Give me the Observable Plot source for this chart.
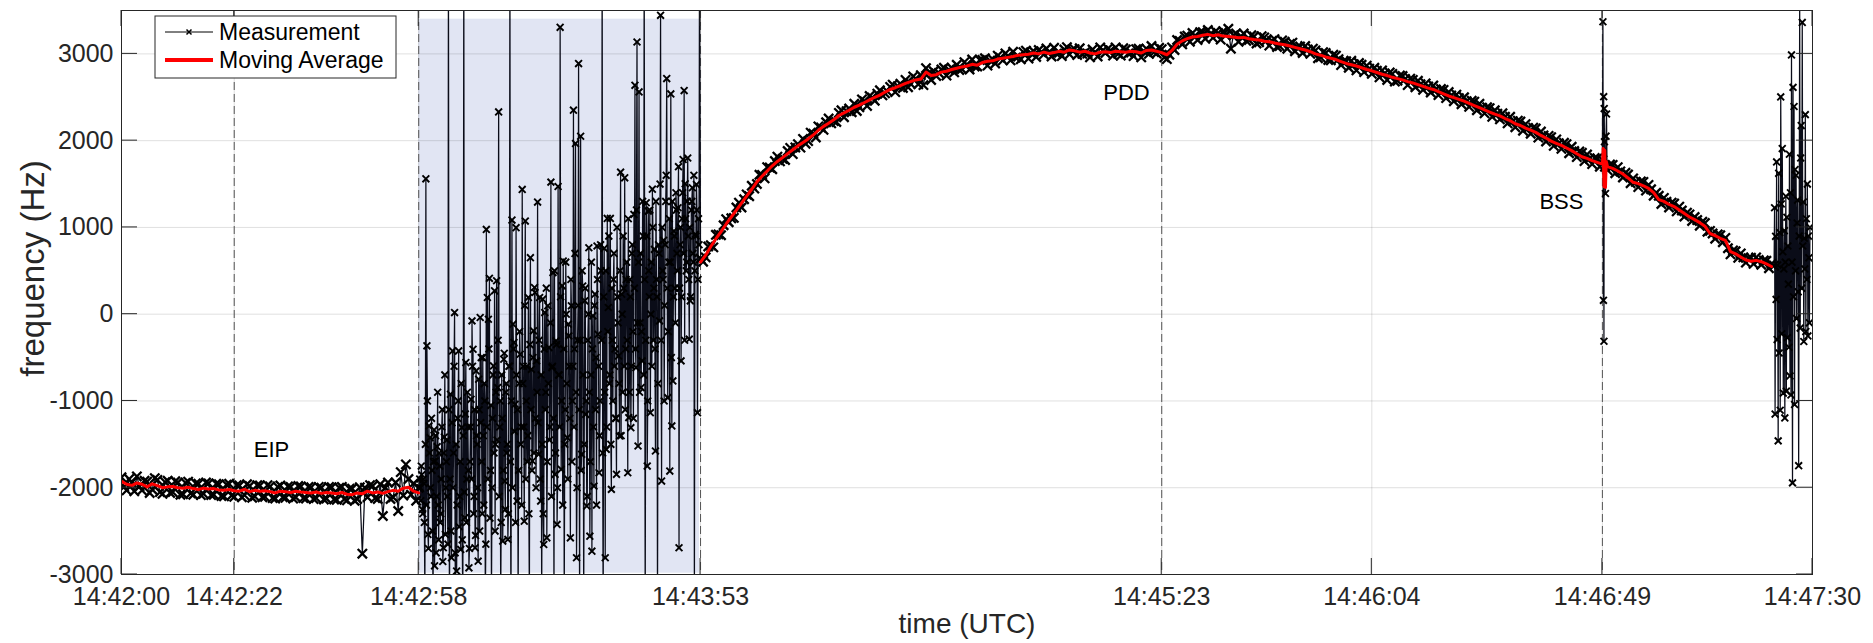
<!DOCTYPE html>
<html><head><meta charset="utf-8">
<script src="https://cdn.jsdelivr.net/npm/d3@7"></script>
<script src="https://cdn.jsdelivr.net/npm/@observablehq/plot@0.6"></script>
<style>
html,body{margin:0;padding:0;background:#fff;}
#chart svg{display:block;}
</style></head><body><div id="chart"></div>
<script>
// ---------- DATA (seconds after 14:42:00 UTC, frequency in Hz) ----------
const tickSeconds = [0, 22, 58, 113, 203, 244, 289, 330];
const yTicks = [-3000, -2000, -1000, 0, 1000, 2000, 3000];
const eventSeconds = [22, 58, 113, 203, 289];
const eventLabels = ["EIP", "PDD", "BSS"];
const eventLabelSec = [25.8, 191.6, 276.7];
const eventLabelHz = [-1560, 2545, 1290];
const shadeSec = [58, 112.8];
const shadeHz = [-2985, 3400];

// Measurement, 0 s .. 58 s every 0.5 s
const measLeftStart = 0, measLeftStep = 0.5;
const measLeft = [
-1880,-1990,-2030,-1900,-1940,-2040,-1870,-1985,-2030,-1920,
-1930,-2060,-2020,-1890,-1910,-2050,-2070,-1935,-1920,-2060,
-2050,-1925,-1940,-2080,-2075,-1945,-1930,-2065,-2080,-1950,
-1955,-2085,-2070,-1940,-1950,-2085,-2080,-1955,-1960,-2095,
-2100,-1965,-1955,-2090,-2105,-1970,-1975,-2110,-2085,-1960,
-1980,-2115,-2100,-1970,-1975,-2110,-2105,-1970,-1985,-2120,
-2125,-1990,-1975,-2110,-2115,-1985,-1990,-2125,-2110,-1980,
-1985,-2120,-2125,-1990,-1995,-2130,-2120,-1990,-2000,-2135,
-2125,-1990,-1995,-2135,-2140,-2000,-1990,-2130,-2145,-2010,
-2010,-2150,-2130,-1995,-2760,-2000,-2110,-1970,-1980,-2120,
-2130,-1960,-2326,-2000,-1940,-2130,-2110,-1940,-2268,-1820,
-2090,-1731,-1900,-2080,-1950,-2150,-2000];

// Measurement, noisy window, samples A: 58.2 s .. 112.8 s every 0.2 s
const measNoisyStart = 58.2, measNoisyStep = 0.2;
const measNoisy = [
-1900,-2150,-1850,-2300,-1950, -3200,1560,-365,-2538,-1288,
-1423,-2100,-1800,-3300,-1334, -1692,-2750,-1527,-2200,-1600,
-2400,-1900,-1100,-2692,-1415, -2538,-1700,-2100,4200,-3500,
-923,-2807,-423,-1600,19, -3300,-2961,-1200,-423,-2100,
-2711,-1307,-3400,4200,-2346, -558,-1900,-1300,-2923,-1700,
-981,-77,-404,-2100,-2692, -654,-1500,-2846,-1100,-38,
-500,-2300,-1400,-800,-3300, 977,192,-58,413,-1800,
-3300,-1200,-596,269,-1500, 385,-846,2331,-1300,-3300,
-700,-2615,-519,-1923,-900, -1600,-2596,-600,4200,-3500,
1085,-115,-327,-1038,997, -2154,-3300,-800,-462,-1300,
1438,-600,-2385,1073,-1000, -1700,192,-3300,651,-635,
-1692,-192,308,-1200,-538, 1292,-1615,192,-2154,-3300,
173,-2654,19,-900,-2577, 96,-385,-1300,1522,-615,
479,-3300,-1846,-308,-2423, 1472,-700,3306,-1788,327,
613,-3300,-1100,0,-1423, -115,-600,-2577,96,-1000,
2351,-400,1967,-2807,-300, 2888,-3300,2051,-1615,325,
-3300,154,-1154,-2211,-300, 766,-2558,-700,-2731,-19,
-1981,231,-500,786,-231, -1827,-1000,500,4200,-3500,
759,-2807,-1558,1104,77, -800,1104,-2019,-300,400,
-600,-1200,-1846,200,-481, -1404,1637,231,-900,300,
1572,-400,600,-1827,-1192, 400,-1308,700,-200,1150,
2638,-615,3137,-1519,2562, -100,-846,-538,900,4200,
-3500,1284,-1750,1188,200, -1135,600,1441,-300,747,
-1577,400,-3300,800,-77, 3444,-1923,500,851,100,
1300,2715,-962,600,-1808, 2539,-1288,-769,958,300,
1400,700,1227,-2692,800, -538,1100,1783,2577,1503,
500,1303,900,-288,154, 1200,1457,600,-3300,920,
1495,-1135,1100,4200];

// Measurement, noisy window, samples B: 58.3 s .. 112.7 s every 0.2 s
const measNoisyBStart = 58.3, measNoisyBStep = 0.2;
const measNoisyB = [
-2000,-1750,-2250,-1900,-2400, -1500,-2200,-1000,-2700,-1600,
-2000,-1200,-2500,-1700,-2900, -1400,-2100,-900,-2600,-1750,
-2300,-1300,-2850,-1600,-700, -2000,-1450,-2650,-1100,-1900,
-2500,-1250,-2000,-600,-2750, -1500,-2200,-1000,-2450,-1700,
-800,-2600,-1400,-2050,-1150, -2400,-900,-1800,-2700,-1300,
-1900,-600,-2300,-1100,-2550, -1400,-2000,-750,-2500,-1250,
-1700,-500,-2200,-1000,-2650, -1300,-1900,-400,-2350,-1050,
-2000,-700,-1600,-2500,-900, -1450,-300,-2100,-1000,-2400,
-1200,-1800,-450,-2250,-800, -1500,-2300,-600,-1700,-1000,
-2000,-400,-1350,-2400,-700, -1100,-1800,-200,-1500,-2200,
-800,-1300,100,-1900,-600, -1400,-2300,-350,-1100,-1800,
-500,-1600,250,-2000,-900, -1250,-300,-1900,-700,-1500,
-2300,-400,-1100,300,-1700, -800,-1450,-100,-2100,-600,
-1200,500,-1600,-350,-2000, -700,-1300,200,-1000,-2200,
-400,-1500,600,-800,-1900, -250,-1200,400,-1700,-600,
-1300,700,-900,-2000,100, -1100,-300,-1800,500,-700,
-1500,300,-1000,-2100,0, -900,-1700,600,-400,-1300,
100,-1100,-2200,400,-600, -1400,800,-300,-1600,200,
-900,500,-1300,-200,900, -700,-1500,300,-1000,700,
-400,-1200,1000,-100,-800, 500,-1400,0,900,-600,
-1100,400,-300,1100,-900, 200,-600,800,-1200,300,
-400,1200,-100,600,-900, 700,-200,1300,-700,400,
-300,900,-1000,500,1200, 0,-600,1000,300,-400,
1300,200,-800,700,1500, -300,1000,400,-1000,800,
1600,300,-200,1100,600, -500,1300,200,900,-100,
1200,500,1700,300,1000, 200,1400,700,-300,1100,
600,1800,400,1000,200, 1300,700,1600,500,900,
1200,400,800];

// Measurement, 113 s .. 322.5 s every 0.5 s
const measRightStart = 113, measRightStep = 0.5;
const measRight = [
640,605,655,780,795,770,915,920,910,1025,1095,1060,1105,1110,1230,1285,1230,1325,1380,1360,
1480,1447,1500,1607,1605,1565,1695,1690,1670,1765,1815,1762,1790,1777,1880,1917,1845,1922,1960,1920,
2020,1965,1995,2092,2080,2037,2165,2152,2125,2212,2255,2200,2225,2215,2320,2350,2270,2340,2370,2327,
2425,2342,2385,2475,2455,2400,2515,2495,2460,2542,2580,2522,2545,2565,2620,2645,2560,2627,2655,2607,
2700,2615,2655,2740,2715,2650,2755,2640,2835,2775,2700,2800,2745,2780,2820,2840,2750,2815,2840,2787,
2875,2815,2825,2905,2875,2820,2935,2855,2855,2930,2930,2950,2865,2922,2940,2890,2980,2955,2925,3005,
2975,2925,3025,2957,2970,2937,3020,3037,2945,3007,3030,2965,3045,3020,2995,3062,3020,2970,3070,3002,
3015,2975,3050,3077,2995,3045,3055,2987,3065,3000,3015,3005,2960,3050,3020,2970,3075,3040,3010,3060,
3040,2980,3075,3000,2980,3065,3050,3005,3015,2975,3055,3060,2960,3030,3060,3000,3090,3020,3005,3070,
3055,2960,2940,2990,3075,3045,3160,3150,3110,3200,3210,3140,3240,3210,3160,3250,3250,3175,3275,3230,
3185,3260,3240,3165,3260,3215,3290,3060,3215,3235,3140,3200,3235,3150,3160,3215,3200,3120,3135,3205,
3190,3160,3095,3150,3170,3080,3090,3155,3140,3060,3115,3130,3030,3080,3085,3010,3090,3050,3000,3060,
3040,2950,2960,3020,3010,2930,2925,2990,2980,2940,2870,2915,2915,2840,2920,2880,2810,2895,2875,2790,
2865,2830,2770,2840,2805,2730,2810,2775,2700,2785,2770,2680,2690,2750,2745,2710,2640,2715,2700,2615,
2690,2650,2585,2660,2625,2555,2635,2590,2525,2595,2585,2490,2560,2520,2455,2530,2490,2420,2500,2455,
2390,2460,2450,2350,2425,2380,2315,2385,2375,2275,2350,2310,2245,2315,2275,2200,2275,2225,2155,2230,
2220,2115,2190,2145,2080,2150,2140,2035,2105,2060,1990,2055,2040,1940,2015,1970,1905,1975,1960,1855,
1930,1880,1810,1875,1860,1765,1840,1795,1730,1800,1795,1700,1775,1700,1660,1725,1720,1625,1695,1645,
1575,1630,1610,1510,1565,1525,1465,1530,1525,1425,1490,1440,1365,1400,1365,1270,1340,1295,1230,1285,
1275,1185,1240,1195,1125,1170,1150,1075,1120,1085,1020,1065,1050,950,960,930,870,920,910,830,
880,760,690,735,725,650,700,655,595,645,650,580,655,625,570,620,615,530,580,560];

// Measurement spike at BSS
const bssSec = [289.1, 289.2, 289.25, 289.3, 289.35, 289.4, 289.6, 289.7, 289.8, 289.9];
const bssHz  = [3370, 160, 2507, -312, 2370, 1987, 1391, 2052, 2307, 1700];

// Measurement, noisy tail 322.6 s .. 329.5 s every 0.1 s
const endStart = 322.6, endStep = 0.1;
const endHz = [
1227,-1151,897,170,1755,-293,566,-1460,1623,-447,
941,-1107,2504,1271,-226,1909,720,-909,522,963,
-1195,600,1359,-887,1117,-271,786,346,-381,1843,
-711,1400,-931,2988,600,-1944,2614,200,2394,-1041,
1667,500,1601,-50,1051,1315,258,-1746,900,3600,
-160,1800,2174,300,3363,786,1293,-315,875,522,
2300,-200,1100,400,1500,-250,900,650,-100,1000];

// Moving average, 0 s .. 58 s every 1 s
const maLeft = [
-1925,-1960,-1975,-1945,-1960,-1990,-1955,-1975,-2000,-1990,
-1985,-2000,-2005,-1995,-2010,-2020,-2005,-2015,-2010,-2025,
-2030,-2020,-2035,-2040,-2020,-2045,-2030,-2040,-2035,-2045,
-2060,-2040,-2045,-2055,-2040,-2050,-2055,-2060,-2050,-2065,
-2055,-2060,-2070,-2055,-2075,-2080,-2060,-2070,-2040,-2060,
-2050,-2065,-2045,-2030,-2040,-2005,-1995,-2040,-2060];

// Moving average, 113 s .. 322 s every 1 s
const maRightStart = 113;
const maRight = [
600,680,780,870,950,1040,1120,1200,1280,1360,
1440,1525,1590,1650,1710,1760,1805,1850,1895,1940,
1980,2020,2065,2120,2165,2200,2240,2290,2320,2350,
2385,2410,2440,2470,2500,2525,2560,2590,2610,2635,
2660,2680,2700,2710,2790,2750,2760,2790,2800,2820,
2835,2850,2860,2880,2870,2900,2915,2920,2940,2950,
2960,2970,2985,2990,2995,3010,3000,3020,3005,3015,
3030,3020,3045,3035,3020,3030,3010,3000,3020,3025,
3015,3030,3025,3020,3030,3025,3010,3040,3045,3030,
3015,2990,3040,3110,3150,3175,3195,3200,3215,3225,
3210,3220,3205,3200,3195,3185,3190,3175,3165,3160,
3145,3140,3125,3115,3105,3090,3075,3060,3045,3025,
3000,2985,2965,2950,2935,2910,2890,2875,2860,2840,
2820,2805,2785,2765,2750,2730,2715,2700,2680,2665,
2645,2625,2605,2590,2565,2540,2515,2495,2475,2455,
2430,2405,2380,2355,2330,2305,2285,2255,2230,2195,
2175,2145,2120,2095,2060,2030,1995,1970,1945,1915,
1885,1850,1815,1795,1770,1750,1730,1700,1680,1650,
1615,1570,1520,1505,1480,1450,1400,1320,1300,1265,
1240,1200,1160,1120,1090,1055,1015,930,905,875,
850,720,695,660,625,610,620,605,580,550];

// Moving average wiggle at BSS
const maBssSec = [289.15, 289.3, 289.45, 289.6, 289.75];
const maBssHz  = [1910, 1470, 1890, 1460, 1760];

// ---------- BUILD ----------
const base = Date.UTC(2021, 0, 1, 14, 42, 0);
const T = s => new Date(base + Math.round(s * 1000));

const meas = [];
measLeft.forEach((v, i) => meas.push({t: T(measLeftStart + i * measLeftStep), v, noisy: false}));
measNoisy.forEach((v, i) => meas.push({t: T(measNoisyStart + i * measNoisyStep), v, noisy: true}));
measNoisyB.forEach((v, i) => meas.push({t: T(measNoisyBStart + i * measNoisyBStep), v, noisy: true}));
measRight.forEach((v, i) => meas.push({t: T(measRightStart + i * measRightStep), v, noisy: false}));
bssSec.forEach((s, i) => meas.push({t: T(s), v: bssHz[i], noisy: true}));
endHz.forEach((v, i) => meas.push({t: T(endStart + i * endStep), v, noisy: true}));
meas.sort((a, b) => a.t - b.t);
const measSmooth = meas.filter(d => !d.noisy);
const measRough = meas.filter(d => d.noisy);

const ma = [];
maLeft.forEach((v, i) => ma.push({t: T(i), v, seg: 0}));
maRight.forEach((v, i) => ma.push({t: T(maRightStart + i), v, seg: 1}));
maBssSec.forEach((s, i) => ma.push({t: T(s), v: maBssHz[i], seg: 1}));
ma.sort((a, b) => a.t - b.t);

const tickTimes = tickSeconds.map(T);
const eventTimes = eventSeconds.map(T);
const shade = [{a: T(shadeSec[0]), b: T(shadeSec[1]), lo: shadeHz[0], hi: shadeHz[1]}];

const W = 1873, H = 643, ML = 121, MR = 61, MT = 10, MB = 69;
const FONT = '"Liberation Sans", Arial, Helvetica, sans-serif';
const INK = "#262626";

const plot = Plot.plot({
  width: W, height: H,
  marginLeft: ML, marginRight: MR, marginTop: MT, marginBottom: MB,
  style: {fontFamily: FONT, background: "white", color: INK},
  x: {type: "utc", domain: [T(0), T(330)], label: null},
  y: {domain: [-3000, 3500], label: null},
  marks: [
    Plot.rect(shade, {x1: "a", x2: "b", y1: "lo", y2: "hi", fill: "#e1e5f3"}),
    Plot.ruleX(tickTimes, {stroke: "#262626", strokeOpacity: 0.14}),
    Plot.ruleY(yTicks, {stroke: "#262626", strokeOpacity: 0.14}),
    Plot.ruleX(eventTimes, {stroke: "#555", strokeWidth: 1, strokeDasharray: "8,4"}),
    Plot.line(meas, {x: "t", y: "v", stroke: "#0a0c18", strokeWidth: 1.25, clip: true}),
    Plot.dot(measSmooth, {x: "t", y: "v", symbol: "times", r: 4.3, stroke: "#000", strokeWidth: 2.3, clip: true}),
    Plot.dot(measRough, {x: "t", y: "v", symbol: "times", r: 3.2, stroke: "#000", strokeWidth: 1.9, clip: true}),
    Plot.line(ma, {x: "t", y: "v", z: "seg", stroke: "#ff0000", strokeWidth: 3, clip: true}),
    Plot.frame({stroke: INK, strokeWidth: 1}),
    Plot.axisX({ticks: tickTimes, tickFormat: d3.utcFormat("%H:%M:%S"), tickSize: 0, tickPadding: 13, fontSize: 25, label: null, fill: INK}),
    Plot.axisY({ticks: yTicks, tickFormat: d => String(d), tickSize: 0, tickPadding: 8, fontSize: 25, label: null, fill: INK}),
    Plot.text(eventLabels, {x: (d, i) => T(eventLabelSec[i]), y: (d, i) => eventLabelHz[i], textAnchor: "start", lineAnchor: "middle", fontSize: 22, fill: "#000"}),
    Plot.text(["frequency (Hz)"], {frameAnchor: "left", dx: -88, dy: -24, rotate: -90, textAnchor: "middle", lineAnchor: "middle", fontSize: 33, fill: INK}),
    Plot.text(["time (UTC)"], {frameAnchor: "bottom", dy: 50, textAnchor: "middle", lineAnchor: "middle", fontSize: 28, fill: INK})
  ]
});

// inward tick marks (MATLAB style) using the plot's own scales
const sxo = plot.scale("x"), syo = plot.scale("y");
const fx = sxo.apply ? (d => sxo.apply(d)) : d3.scaleUtc(sxo.domain, sxo.range);
const fy = syo.apply ? (d => syo.apply(d)) : d3.scaleLinear(syo.domain, syo.range);
const svg = d3.select(plot);
const tk = svg.append("g").attr("stroke", INK).attr("stroke-width", 1);
const TL = 16;
tickTimes.forEach(d => {
  const x = fx(d);
  tk.append("line").attr("x1", x).attr("x2", x).attr("y1", H - MB).attr("y2", H - MB - TL);
  tk.append("line").attr("x1", x).attr("x2", x).attr("y1", MT).attr("y2", MT + TL);
});
yTicks.forEach(v => {
  const y = fy(v);
  tk.append("line").attr("x1", ML).attr("x2", ML + TL).attr("y1", y).attr("y2", y);
  tk.append("line").attr("x1", W - MR - TL).attr("x2", W - MR).attr("y1", y).attr("y2", y);
});

// legend box inside the axes (top-left)
const lg = svg.append("g").attr("font-family", FONT).attr("font-size", 23)
  .attr("fill", "#000").attr("text-anchor", "start");
const lx = ML + 34, ly = MT + 6;
lg.append("rect").attr("x", lx).attr("y", ly).attr("width", 241).attr("height", 62)
  .attr("fill", "white").attr("stroke", INK).attr("stroke-width", 1);
lg.append("line").attr("x1", lx + 10).attr("x2", lx + 58).attr("y1", ly + 16).attr("y2", ly + 16)
  .attr("stroke", "#000").attr("stroke-width", 1);
lg.append("path").attr("d", d3.symbol(d3.symbolTimes, 18)()).attr("transform", `translate(${lx + 34},${ly + 16})`)
  .attr("stroke", "#000").attr("stroke-width", 1.5).attr("fill", "none");
lg.append("text").attr("x", lx + 64).attr("y", ly + 24).attr("text-anchor", "start").text("Measurement");
lg.append("line").attr("x1", lx + 10).attr("x2", lx + 58).attr("y1", ly + 44).attr("y2", ly + 44)
  .attr("stroke", "#ff0000").attr("stroke-width", 4);
lg.append("text").attr("x", lx + 64).attr("y", ly + 52).attr("text-anchor", "start").text("Moving Average");

document.getElementById("chart").appendChild(plot);
</script></body></html>
